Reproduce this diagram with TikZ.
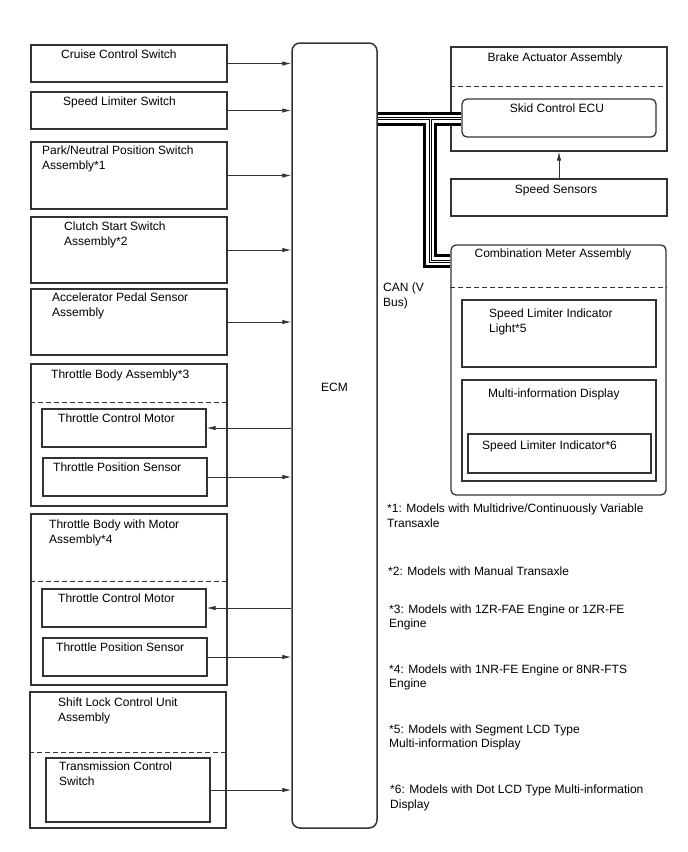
\documentclass[tikz,border=0pt]{standalone}
\usepackage{fontspec}
\setmainfont{Liberation Sans}
\usetikzlibrary{arrows.meta,fit}

\begin{document}
\begin{tikzpicture}[x=1pt, y=-1pt, font=\fontsize{12}{14.5}\selectfont,
    box/.style = {draw=black!80, line width=1.3pt, inner sep=0pt},
    txt/.style = {inner sep=0pt, align=left, anchor=base west},
    ctxt/.style = {inner sep=0pt, anchor=base},
    sep/.style = {draw=black!80, line width=1pt, dash pattern=on 5pt off 3pt},
    sig/.style = {draw=black!80, line width=0.9pt, -{Latex[length=9pt,width=4.5pt]}}]
    \useasboundingbox (0,0) rectangle (688,852);

    \node[box, rounded corners=8pt, line width=1.5pt, fit={(292,43) (377,828)}] (ecm) {};
    \node[ctxt] (ecm-t) at (334.5,391.5) {ECM};

    \node[box, fit={(31,45) (227,82)}] (cruise) {};
    \node[txt] (cruise-t) at (61,58.5) {Cruise Control Switch};
    \node[box, fit={(31,92) (227,129)}] (slsw) {};
    \node[txt] (slsw-t) at (63,105) {Speed Limiter Switch};
    \node[box, fit={(31,142) (227,209)}] (pnp) {};
    \node[txt] (pnp-t) at (42,169) {Park/Neutral Position Switch\\Assembly*1};
    \node[box, fit={(31,217) (227,283)}] (clutch) {};
    \node[txt] (clutch-t) at (64,245) {Clutch Start Switch\\Assembly*2};
    \node[box, fit={(31,289) (227,355)}] (accel) {};
    \node[txt] (accel-t) at (52,316) {Accelerator Pedal Sensor\\Assembly};

    \node[box, fit={(31,364) (227,506)}] (tba) {};
    \node[txt] (tba-t) at (51,378.5) {Throttle Body Assembly*3};
    \draw[sep] (tba.west |- 0,402) -- (tba.east |- 0,402);
    \node[box, fit={(42,409) (206,447)}] (tcm1) {};
    \node[txt] (tcm1-t) at (58,422) {Throttle Control Motor};
    \node[box, fit={(43,458) (207,496)}] (tps1) {};
    \node[txt] (tps1-t) at (53,471) {Throttle Position Sensor};

    \node[box, fit={(31,514) (227,685)}] (tbm) {};
    \node[txt] (tbm-t) at (49,543) {Throttle Body with Motor\\Assembly*4};
    \draw[sep] (tbm.west |- 0,581) -- (tbm.east |- 0,581);
    \node[box, fit={(42,589) (206,627)}] (tcm2) {};
    \node[txt] (tcm2-t) at (58,602) {Throttle Control Motor};
    \node[box, fit={(43,638) (207,676)}] (tps2) {};
    \node[txt] (tps2-t) at (56,651) {Throttle Position Sensor};

    \node[box, fit={(30,692) (226,828)}] (shift) {};
    \node[txt] (shift-t) at (58,721) {Shift Lock Control Unit\\Assembly};
    \draw[sep] (shift.west |- 0,752) -- (shift.east |- 0,752);
    \node[box, fit={(46,758) (210,822)}] (tcs) {};
    \node[txt] (tcs-t) at (59,785) {Transmission Control\\Switch};

    \node[box, fit={(451,47) (667,151)}] (brake) {};
    \node[ctxt] (brake-t) at (555,61.5) {Brake Actuator Assembly};
    \draw[sep] (brake.west |- 0,86) -- (brake.east |- 0,86);
    \node[box, rounded corners=5pt, fit={(462,99) (656,137)}] (skid) {};
    \node[ctxt] (skid-t) at (557,112.5) {Skid Control ECU};
    \node[box, fit={(451,179) (667,216)}] (sensors) {};
    \node[ctxt] (sensors-t) at (556,193.5) {Speed Sensors};

    \node[box, rounded corners=5pt, fit={(451,245) (666,495)}] (comb) {};
    \node[ctxt] (comb-t) at (553,257.5) {Combination Meter Assembly};
    \draw[sep] (comb.west |- 0,287) -- (comb.east |- 0,287);
    \node[box, fit={(462,300) (656,367)}] (slil) {};
    \node[txt] (slil-t) at (489,332) {Speed Limiter Indicator\\Light*5};
    \node[box, fit={(462,380) (656,481)}] (mid) {};
    \node[txt] (mid-t) at (488,397) {Multi-information Display};
    \node[box, fit={(468,434) (651,473)}] (sli) {};
    \node[txt] (sli-t) at (482,449.5) {Speed Limiter Indicator*6};

    \node[txt] (can-t) at (383,306) {CAN (V\\Bus)};

    \coordinate (tee) at (430,118.5);
    \coordinate (bend) at (430,261);
    \foreach \w/\c in {14/black, 8/white, 3/black, 1/white} {
        \draw[line width=\w pt, \c] (ecm.east |- tee) -- (skid.west |- tee);
        \draw[line width=\w pt, \c] (tee) -- (bend) -- (comb.west |- bend);
    }

    \foreach \n in {cruise, slsw, pnp, clutch, accel, tps1, tps2, tcs}
        \draw[sig] (\n.east) -- (\n.east -| ecm.west);
    \foreach \n in {tcm1, tcm2}
        \draw[sig] (\n.east -| ecm.west) -- (\n.east);
    \draw[sig] (sensors.north) -- (sensors.north |- brake.south);

    \node[txt] (note1) at (387,527) {*1: Models with Multidrive/Continuously Variable\\Transaxle};
    \node[txt] (note2) at (388,575.5) {*2: Models with Manual Transaxle};
    \node[txt] (note3) at (389,627.5) {*3: Models with 1ZR-FAE Engine or 1ZR-FE\\Engine};
    \node[txt] (note4) at (389,687.5) {*4: Models with 1NR-FE Engine or 8NR-FTS\\Engine};
    \node[txt] (note5) at (389,747.5) {*5: Models with Segment LCD Type\\Multi-information Display};
    \node[txt] (note6) at (390,808) {*6: Models with Dot LCD Type Multi-information\\Display};
\end{tikzpicture}
\end{document}
